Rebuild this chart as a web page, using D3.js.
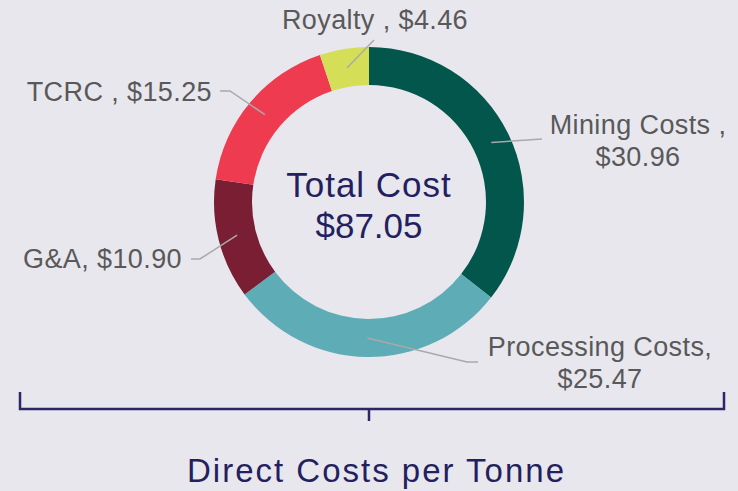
<!DOCTYPE html>
<html>
<head>
<meta charset="utf-8">
<script src="https://cdn.jsdelivr.net/npm/d3@7/dist/d3.min.js"></script>
<style>
  html, body { margin: 0; padding: 0; background: #e8e7ee; }
  svg { display: block; }
  text { font-family: "Liberation Sans", Arial, sans-serif; }
</style>
</head>
<body>
<svg id="chart" width="738" height="491"></svg>
<script>
// ---- data ----
const categories = ["Mining Costs ", "Processing Costs", "G&A", "TCRC ", "Royalty "];
const values = [30.96, 25.47, 10.90, 15.25, 4.46];
const colors = ["#03564b", "#5eacb6", "#7a1f33", "#ef3b4f", "#d4de57"];
const centerTitle = "Total Cost";
const centerValue = "$87.05";
const axisTitle = "Direct Costs per Tonne";

// ---- layout ----
const W = 738, H = 491;
const cx = 369, cy = 202, rOuter = 155, rInner = 117;
const svg = d3.select("#chart");
svg.append("rect").attr("width", W).attr("height", H).attr("fill", "#e8e7ee");

const items = categories.map((c, i) => ({ name: c, value: values[i], color: colors[i] }));
const pie = d3.pie().value(d => d.value).sort(null);
const arcs = pie(items);
const arc = d3.arc().innerRadius(rInner).outerRadius(rOuter);
const midArc = d3.arc().innerRadius(136).outerRadius(136);

const g = svg.append("g").attr("transform", `translate(${cx},${cy})`);
g.selectAll("path.slice").data(arcs).enter().append("path")
  .attr("class", "slice")
  .attr("d", arc)
  .attr("fill", d => d.data.color);

// label placement (elbow + text position), per slice index
const labelLayout = [
  { elbow: [[542, 139]], anchor: "middle", x: 638, y: 134, split: true },
  { elbow: [[467, 362], [478, 362]], anchor: "middle", x: 600, y: 356, split: true },
  { elbow: [[200, 259], [191, 259]], anchor: "end", x: 182, y: 268, split: false },
  { elbow: [[230, 91], [220, 91]], anchor: "end", x: 212, y: 101, split: false },
  { elbow: [[374, 40]], anchor: "middle", x: 375, y: 29, split: false }
];

arcs.forEach((a, i) => {
  const L = labelLayout[i];
  const c = midArc.centroid(a);
  const pts = [[cx + c[0], cy + c[1]]].concat(L.elbow);
  svg.append("path")
    .attr("d", d3.line()(pts))
    .attr("fill", "none")
    .attr("stroke", "#a9a9a9")
    .attr("stroke-width", 1.5);
  const valStr = "$" + a.data.value.toFixed(2);
  const t = svg.append("text")
    .attr("x", L.x).attr("y", L.y)
    .attr("text-anchor", L.anchor)
    .attr("fill", "#595959")
    .attr("font-size", 27)
    .attr("letter-spacing", 0.4);
  if (L.split) {
    t.append("tspan").attr("x", L.x).text(a.data.name + ",");
    t.append("tspan").attr("x", L.x).attr("dy", 32).text(valStr);
  } else {
    t.text(a.data.name + ", " + valStr);
  }
});

// center text
svg.append("text").attr("x", cx).attr("y", 197).attr("text-anchor", "middle")
  .attr("fill", "#241f5e").attr("font-size", 35).attr("letter-spacing", 1)
  .text(centerTitle);
svg.append("text").attr("x", cx).attr("y", 238).attr("text-anchor", "middle")
  .attr("fill", "#241f5e").attr("font-size", 35).text(centerValue);

// bracket
const bx = d3.scaleLinear().domain([0, 1]).range([20, 724]);
svg.append("path")
  .attr("d", d3.line()([[bx(0), 392], [bx(0), 409], [bx(1), 409], [bx(1), 392]]))
  .attr("fill", "none").attr("stroke", "#2b2768").attr("stroke-width", 2.5);
svg.append("line")
  .attr("x1", cx).attr("x2", cx).attr("y1", 409).attr("y2", 421)
  .attr("stroke", "#2b2768").attr("stroke-width", 2.5);

svg.append("text").attr("x", 187).attr("y", 482)
  .attr("fill", "#241f5e").attr("font-size", 33)
  .attr("textLength", 377).attr("lengthAdjust", "spacing")
  .text(axisTitle);
</script>
</body>
</html>
